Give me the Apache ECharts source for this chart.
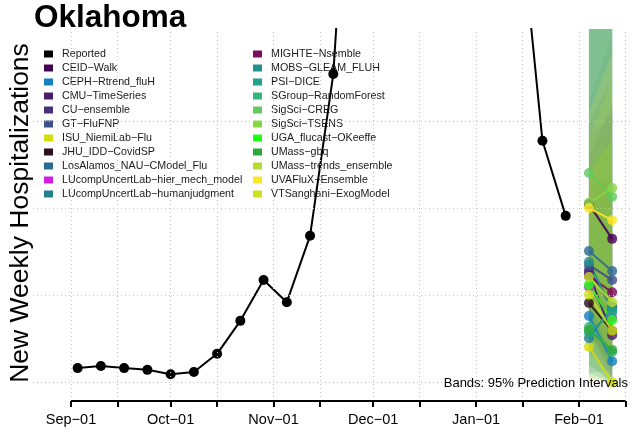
<!DOCTYPE html>
<html><head><meta charset="utf-8">
<script src="https://cdn.jsdelivr.net/npm/echarts@6/dist/echarts.min.js"></script>
<style>html,body{margin:0;padding:0;background:#fff}#c{width:632px;height:433px}</style>
</head><body><div id="c"></div>
<script>
// ---------- data ----------
const reportedDates = ['2022-09-03','2022-09-10','2022-09-17','2022-09-24','2022-10-01','2022-10-08','2022-10-15','2022-10-22','2022-10-29','2022-11-05','2022-11-12','2022-11-19','2022-11-26','2022-12-03','2022-12-10','2022-12-17','2022-12-24','2022-12-31','2023-01-07','2023-01-14','2023-01-21','2023-01-28'];
const reportedValues = [32,37,32,28,18,23,65,141,235,184,337,710,1550,1900,1750,1500,1400,1450,1250,1095,556,383];

const forecastDates = ['2023-02-04','2023-02-11'];
const modelNames = ['CEID−Walk','CEPH−Rtrend_fluH','CMU−TimeSeries','CU−ensemble','GT−FluFNP','ISU_NiemiLab−Flu','JHU_IDD−CovidSP','LosAlamos_NAU−CModel_Flu','LUcompUncertLab−hier_mech_model','LUcompUncertLab−humanjudgment','MIGHTE−Nsemble','MOBS−GLEAM_FLUH','PSI−DICE','SGroup−RandomForest','SigSci−CREG','SigSci−TSENS','UGA_flucast−OKeeffe','UMass−gbq','UMass−trends_ensemble','UVAFluX−Ensemble','VTSanghani−ExogModel'];
const forecastWeek1 = [410,152,251,258,270,81,182,302,219,101,244,277,113,127,482,413,224,120,242,401,201];
const forecastWeek2 = [330,48,108,173,235,0,118,256,148,173,207,166,161,69,427,447,143,74,184,373,118];
const lower95Week1 = [230,40,120,110,130,5,70,160,90,20,110,130,20,40,180,200,100,10,80,180,40];
const upper95Week1 = [850,420,480,560,600,300,450,650,500,380,520,850,820,900,1100,1000,500,850,560,620,480];
const lower95Week2 = [100,0,10,30,60,0,10,80,20,30,40,30,0,0,80,120,30,0,20,60,0];
const upper95Week2 = [950,350,450,620,700,250,480,800,560,620,640,1050,950,1100,1500,1400,560,1000,700,760,560];

const gridValues = [0,200,400,600];
const tickDates = ['2022-09-01','2022-09-15','2022-10-01','2022-10-15','2022-11-01','2022-11-15','2022-12-01','2022-12-15','2023-01-01','2023-01-15','2023-02-01','2023-02-15'];
const labelDates = ['2022-09-01','2022-10-01','2022-11-01','2022-12-01','2023-01-01','2023-02-01'];
const tickLabels = ['Sep−01','Oct−01','Nov−01','Dec−01','Jan−01','Feb−01'];

// ---------- styles ----------
const modelColors = ['#440154','#1581c0','#4b1c6e','#472f7d','#3b518b','#d4dc0a','#2e1121','#2c6c8f','#d01fe0','#25808e','#7a0e5a','#21918c','#20a386','#35b779','#62ca5f','#88d548','#1fff12','#2fa83a','#b4dc32','#fde725','#cde11d'];
const FONT = '"Liberation Sans", Arial, Helvetica, sans-serif';
const DAY = 86400000;
const ts = s => Date.parse(s + 'T00:00:00Z');
const t0 = ts('2022-09-01');
const tickTs = tickDates.map(ts);
const labelTs = labelDates.map(ts);
const fcTs = forecastDates.map(ts);
const yMin = -43.8, yMax = 813.8;

function hexA(hex, a) {
  const n = parseInt(hex.slice(1), 16);
  return 'rgba(' + ((n >> 16) & 255) + ',' + ((n >> 8) & 255) + ',' + (n & 255) + ',' + a + ')';
}

const chart = echarts.init(document.getElementById('c'), null, {renderer: 'canvas'});

const series = [];
// gridlines
series.push({
  type: 'line', data: [], silent: true, z: 0, animation: false,
  markLine: {
    silent: true, symbol: ['none', 'none'], label: {show: false}, animation: false,
    lineStyle: {color: '#c4c4c4', type: [1, 3], width: 1},
    emphasis: {disabled: true},
    data: tickTs.map(t => ({xAxis: t})).concat(gridValues.map(v => ({yAxis: v})))
  }
});
// x axis line (R style: first to last tick)
series.push({
  type: 'line', data: [], silent: true, clip: false, z: 5, animation: false,
  markLine: {
    silent: true, symbol: ['none', 'none'], label: {show: false}, animation: false,
    lineStyle: {color: '#000', type: 'solid', width: 2},
    emphasis: {disabled: true},
    data: [[{coord: [tickTs[0], yMin]}, {coord: [tickTs[tickTs.length - 1], yMin]}]]
  }
});
// prediction bands
series.push({
  type: 'custom', silent: true, clip: true, z: 1, animation: false,
  data: modelNames.map((n, i) => [fcTs[0], forecastWeek1[i], i]),
  renderItem: (params, api) => {
    const i = api.value(2);
    const pts = [
      api.coord([fcTs[0], lower95Week1[i]]),
      api.coord([fcTs[1], lower95Week2[i]]),
      api.coord([fcTs[1], upper95Week2[i]]),
      api.coord([fcTs[0], upper95Week1[i]])
    ];
    return {type: 'polygon', shape: {points: pts}, style: {fill: hexA(modelColors[i], 0.15), stroke: null}};
  }
});
// reported
series.push({
  name: 'Reported', type: 'line', clip: true, z: 4, animation: false,
  data: reportedDates.map((d, i) => [ts(d), reportedValues[i]]),
  symbol: 'circle', symbolSize: 10, showSymbol: true,
  lineStyle: {color: '#000', width: 2}, itemStyle: {color: '#000'}
});
// model forecasts
modelNames.forEach((n, i) => {
  series.push({
    name: n, type: 'line', clip: true, z: 3, animation: false,
    data: [[fcTs[0], forecastWeek1[i]], [fcTs[1], forecastWeek2[i]]],
    symbol: 'circle', symbolSize: 10,
    lineStyle: {color: modelColors[i], width: 2, opacity: 0.9},
    itemStyle: {color: modelColors[i], opacity: 0.82}
  });
});

const legendBase = {
  orient: 'vertical', top: 47, padding: 0, icon: 'rect', itemWidth: 9, itemHeight: 7, itemGap: 0,
  selectedMode: false, itemStyle: {opacity: 1},
  textStyle: {fontSize: 10.7, lineHeight: 14, color: '#1a1a1a', fontFamily: FONT, padding: [0, 0, 0, 4]}
};

chart.setOption({
  backgroundColor: '#fff',
  animation: false,
  grid: {left: 33, right: 0, top: 29, bottom: 32},
  xAxis: {
    type: 'value', min: t0 - 11.45 * DAY, max: t0 + 168.97 * DAY,
    axisLine: {show: false, onZero: false}, splitLine: {show: false},
    axisTick: {show: true, customValues: tickTs, length: 6, lineStyle: {color: '#000', width: 2}},
    axisLabel: {
      show: true, customValues: labelTs, margin: 11, fontSize: 14.5, color: '#000', fontFamily: FONT,
      formatter: v => { let b = 0; labelTs.forEach((t, k) => { if (Math.abs(t - v) < Math.abs(labelTs[b] - v)) b = k; }); return tickLabels[b]; }
    }
  },
  yAxis: {
    type: 'value', min: yMin, max: yMax,
    axisLine: {show: false}, axisTick: {show: false}, axisLabel: {show: false}, splitLine: {show: false}
  },
  legend: [
    Object.assign({}, legendBase, {left: 44, data: ['Reported'].concat(modelNames.slice(0, 10))}),
    Object.assign({}, legendBase, {left: 253, data: modelNames.slice(10)})
  ],
  graphic: [
    {type: 'text', x: 34, y: 18.5, z: 100, style: {text: 'Oklahoma', fontSize: 31.5, fontWeight: 'bold', fontFamily: FONT, fill: '#000', align: 'left', verticalAlign: 'middle'}},
    {type: 'text', x: 20.7, y: 213, rotation: Math.PI / 2, z: 100, style: {text: 'New Weekly Hospitalizations', fontSize: 26.5, fontFamily: FONT, fill: '#000', align: 'center', verticalAlign: 'middle'}},
    {type: 'text', x: 628, y: 383, z: 100, style: {text: 'Bands: 95% Prediction Intervals', fontSize: 13, fontFamily: FONT, fill: '#000', align: 'right', verticalAlign: 'middle'}}
  ],
  series: series
});
</script>
</body></html>
